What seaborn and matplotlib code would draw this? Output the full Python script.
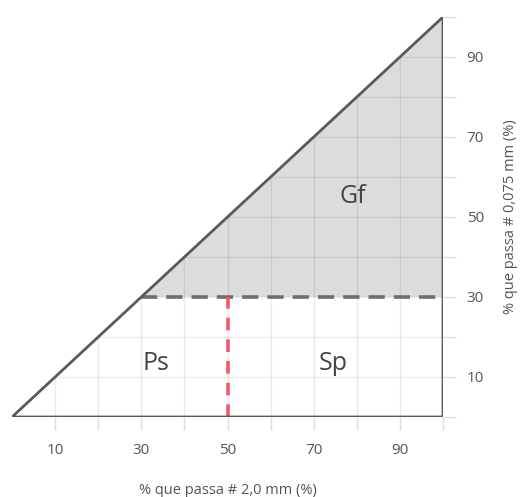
import matplotlib
matplotlib.use("Agg")
import matplotlib.pyplot as plt
import seaborn as sns
import pandas as pd
from matplotlib.patches import Polygon

# Data
tri_x = [0, 100, 100, 0]
tri_y = [0, 0, 100, 0]
fines_limit = 30      # % passing 0.075 mm
sand_limit = 50       # % passing 2.0 mm
zones = ["Gf", "Ps", "Sp"]
zone_x = [79, 33.5, 74.5]
zone_y = [55, 13.5, 13.5]
tick_vals = [10, 30, 50, 70, 90]
xlabel = "% que passa # 2,0 mm (%)"
ylabel = "% que passa # 0,075 mm (%)"

sns.set_theme(style="white")
plt.rcParams["font.family"] = ["Open Sans", "DejaVu Sans"]

fig = plt.figure(figsize=(5.25, 4.97), dpi=100)
ax = fig.add_axes([12/525, 80/497, 431/525, 400/497])
ax.set_xlim(0, 100)
ax.set_ylim(0, 100)

edge = "#5a5a5a"
# shaded Gf region
gf = Polygon([(fines_limit, fines_limit), (100, fines_limit), (100, 100)],
             closed=True, facecolor="#dcdcdc", edgecolor="none", zorder=1)
ax.add_patch(gf)

# grid clipped to triangle
clip = Polygon(list(zip(tri_x, tri_y)), closed=True, transform=ax.transData)
for v in range(10, 100, 10):
    l1, = ax.plot([v, v], [0, 100], color="black", alpha=0.08, lw=1, zorder=2)
    l2, = ax.plot([0, 100], [v, v], color="black", alpha=0.08, lw=1, zorder=2)
    l1.set_clip_path(clip)
    l2.set_clip_path(clip)

df = pd.DataFrame({"x": tri_x, "y": tri_y})
sns.lineplot(data=df, x="x", y="y", sort=False, estimator=None, color=edge,
             lw=2, ax=ax, zorder=5, solid_joinstyle="miter")

ax.plot([fines_limit, 100], [fines_limit, fines_limit], color="#6e6e6e", lw=2.6,
        dashes=(4.5, 2.5), zorder=4)
ax.plot([sand_limit, sand_limit], [0, fines_limit], color="#f05a66", lw=2.6,
        dashes=(3.5, 2.5), zorder=4)

for name, zx, zy in zip(zones, zone_x, zone_y):
    ax.text(zx, zy, name, fontsize=18, color="#444444", ha="center", va="center", zorder=6)

for s in ax.spines.values():
    s.set_visible(False)

ax.yaxis.tick_right()
ax.yaxis.set_label_position("right")
ax.set_xticks(range(10, 101, 10))
ax.set_yticks(range(0, 101, 10))
ax.set_xticklabels([str(v) if v in tick_vals else "" for v in range(10, 101, 10)])
ax.set_yticklabels([str(v) if v in tick_vals else "" for v in range(0, 101, 10)])
ax.tick_params(axis="both", length=9, width=1, color="#dddddd", labelsize=11,
               labelcolor="#555555", pad=10, bottom=True, right=True, left=False)
ax.tick_params(axis="y", pad=8)
ax.set_xlabel(xlabel, fontsize=10.5, color="#555555", labelpad=18)
ax.set_ylabel(ylabel, fontsize=10.5, color="#555555", labelpad=14)

fig.savefig("out.png", dpi=100)
